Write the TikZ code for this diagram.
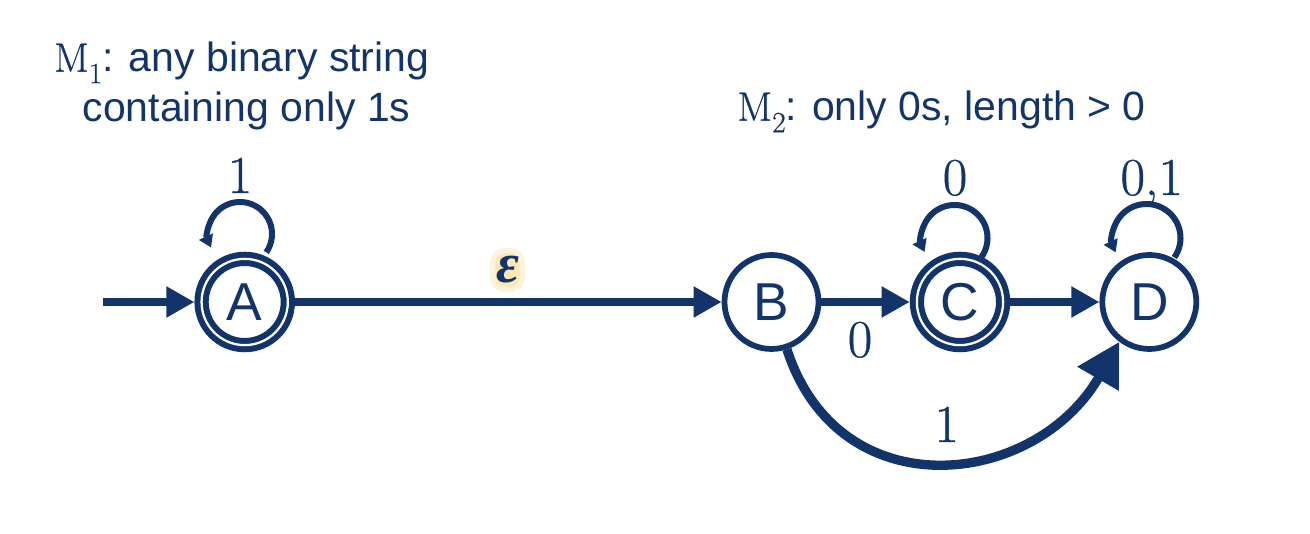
\documentclass[tikz,border=0pt]{standalone}
\usepackage{fontspec}
\newfontfamily\sansf{Liberation Sans}
\newfontfamily\serifg{Liberation Serif}
\newfontfamily\labf[FakeBold=0.7]{Latin Modern Roman}
\usetikzlibrary{arrows.meta}
\definecolor{navy}{RGB}{18,52,107}
\definecolor{glow}{RGB}{250,222,150}
\newcommand\Msub[1]{{\labf M\raisebox{-0.28em}{\fontsize{22}{26}\selectfont #1}}}
\tikzset{
  stbase/.style={circle, navy, text=navy, inner sep=0pt, font=\sansf\fontsize{40}{48}\selectfont},
  state/.style={stbase, draw, line width=4.3pt, minimum size=70.5pt},
  accstate/.style={stbase, draw, line width=4.5pt, double=white, double distance=1.7pt, minimum size=64.7pt, outer sep=5.36pt},
  edgest/.style={draw=navy, line width=6.4pt, -{Triangle[length=21pt,width=22pt]}},
  bigedge/.style={draw=navy, line width=7pt, -{Triangle[length=32pt,width=34pt]}},
  loopst/.style={draw=navy, line width=4.5pt, -{Triangle[length=9pt,width=11pt]}},
  lbl/.style={text=navy, anchor=base, inner sep=0pt, font=\labf\fontsize{40}{48}\selectfont},
  title/.style={text=navy, anchor=base, inner sep=0pt, font=\sansf\fontsize{30.7}{36}\selectfont},
  epslbl/.style={text=navy, fill=glow!70, draw=glow!35, line width=4pt, rounded corners=9pt, inner xsep=2.5pt, inner ysep=4.5pt, font=\serifg\bfseries\itshape\fontsize{42}{48}\selectfont}
}
\begin{document}
\begin{tikzpicture}[x=0.75pt,y=0.75pt]
\useasboundingbox (0,0) rectangle (1310,534);
% titles
\node[title] (t1) at (241.7,462.3) {\Msub{1}: any binary string};
\node[title] (t2) at (246.5,412.3) {containing only 1s};
\node[title] (t3) at (941.5,413.3) {\Msub{2}: only 0s, length > 0};
% states
\node[accstate] (A) at (244.7,232) {A};
\node[state] (B) at (771.5,232) {B};
\node[accstate] (C) at (960,232) {C};
\node[state] (D) at (1149.3,232) {D};
\coordinate (start) at (103.3,232);
% edges
\draw[edgest] (start) -- (A);
\draw[edgest] (A) -- (B);
\draw[edgest] (B) -- (C);
\draw[edgest] (C) -- (D);
\draw[bigedge] (B.288) to[out=-72,in=240,looseness=1.3] (D.233);
% loops
\draw[loopst] ([shift={({-4.7+32*cos(-35)},{68+32*sin(-35)})}]A.center) arc[start angle=-35,end angle=205,radius=32];
\draw[loopst] ([shift={({-5.5+33*cos(-35)},{64+33*sin(-35)})}]C.center) arc[start angle=-35,end angle=205,radius=33];
\draw[loopst] ([shift={({-2.8+34*cos(-35)},{64+34*sin(-35)})}]D.center) arc[start angle=-35,end angle=205,radius=34];
% labels
\node[lbl] (l1) at (240,341) {1};
\node[lbl] (l2) at (955,339) {0};
\node[lbl] (l3) at (1151.7,339) {0,1};
\node[lbl] (l4) at (860,177) {0};
\node[lbl] (l5) at (946.7,92) {1};
\node[epslbl] (eps) at (507.5,264) {ε};
\end{tikzpicture}
\end{document}
